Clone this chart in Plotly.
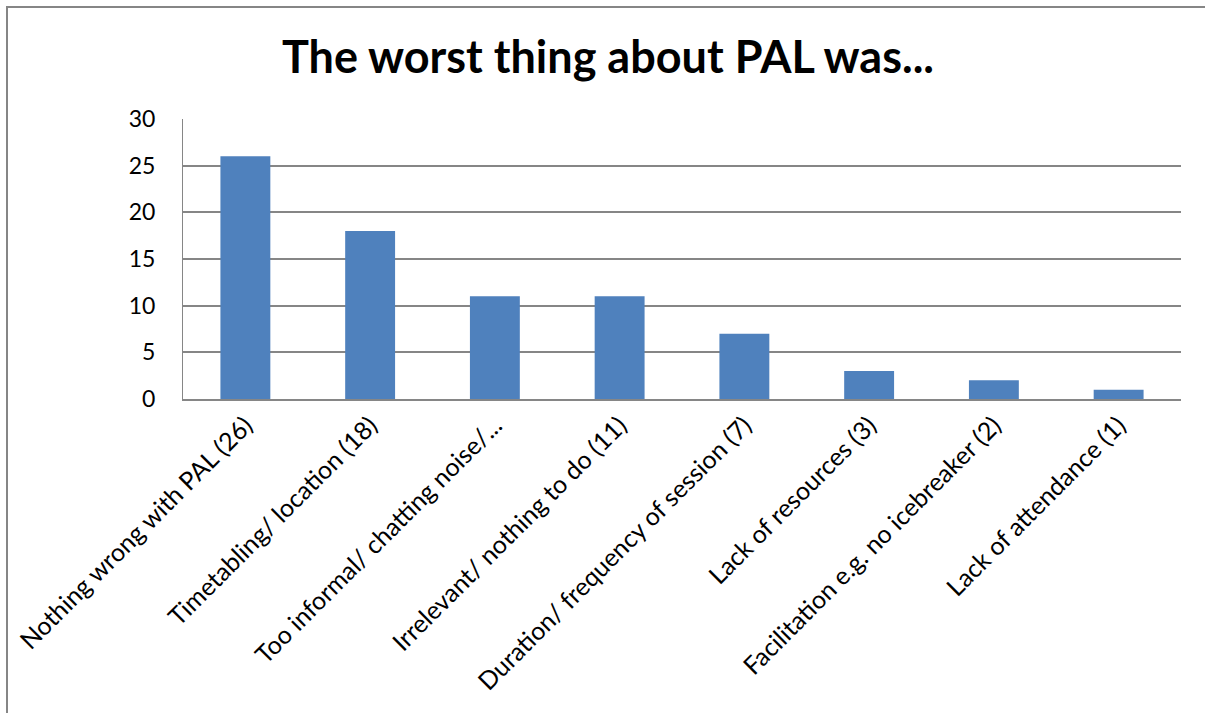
import plotly.graph_objects as go

categories = [
    "Nothing wrong with PAL (26)",
    "Timetabling/ location (18)",
    "Too informal/ chatting noise/...",
    "Irrelevant/ nothing to do (11)",
    "Duration/ frequency of session (7)",
    "Lack of resources (3)",
    "Facilitation e.g. no icebreaker (2)",
    "Lack of attendance (1)",
]
counts = [26, 18, 11, 11, 7, 3, 2, 1]
y_ticks = [0, 5, 10, 15, 20, 25, 30]

W, H = 1205, 713
L, R, T, B = 183, 1181, 119, 399  # plot area in pixels

fig = go.Figure(
    go.Bar(
        x=categories,
        y=counts,
        marker=dict(color="#4F81BD", line=dict(width=0)),
        width=0.4,
    )
)

font = "Lato, 'Open Sans', sans-serif"

fig.update_layout(
    width=W,
    height=H,
    margin=dict(l=L, r=W - R, t=T, b=H - B, autoexpand=False),
    paper_bgcolor="white",
    plot_bgcolor="white",
    showlegend=False,
    font=dict(family=font, color="black"),
    title=dict(
        text="<b>The worst thing about PAL was...</b>",
        x=608 / W,
        xanchor="center",
        y=1 - 57 / H,
        yanchor="middle",
        font=dict(size=45, family=font, color="black"),
    ),
    xaxis=dict(
        tickangle=-45,
        tickfont=dict(size=25),
        showgrid=False,
        showline=True,
        linecolor="#868686",
        linewidth=2,
        ticks="",
        range=[-0.5, 7.5],
    ),
    yaxis=dict(
        range=[0, 30],
        tickvals=y_ticks,
        tickfont=dict(size=23),
        showgrid=True,
        gridcolor="#868686",
        gridwidth=2,
        zeroline=False,
        showline=True,
        linecolor="#868686",
        linewidth=1,
        ticks="",
        ticklabelstandoff=22,
    ),
)

# outer chart border
pw, ph = R - L, B - T
fig.add_shape(
    type="rect",
    xref="paper",
    yref="paper",
    x0=(7 - L) / pw,
    x1=(1215 - L) / pw,
    y0=(B - 730) / ph,
    y1=(B - 7) / ph,
    line=dict(color="#868686", width=2),
    fillcolor="rgba(0,0,0,0)",
    layer="below",
)

fig.write_html("out.html")
